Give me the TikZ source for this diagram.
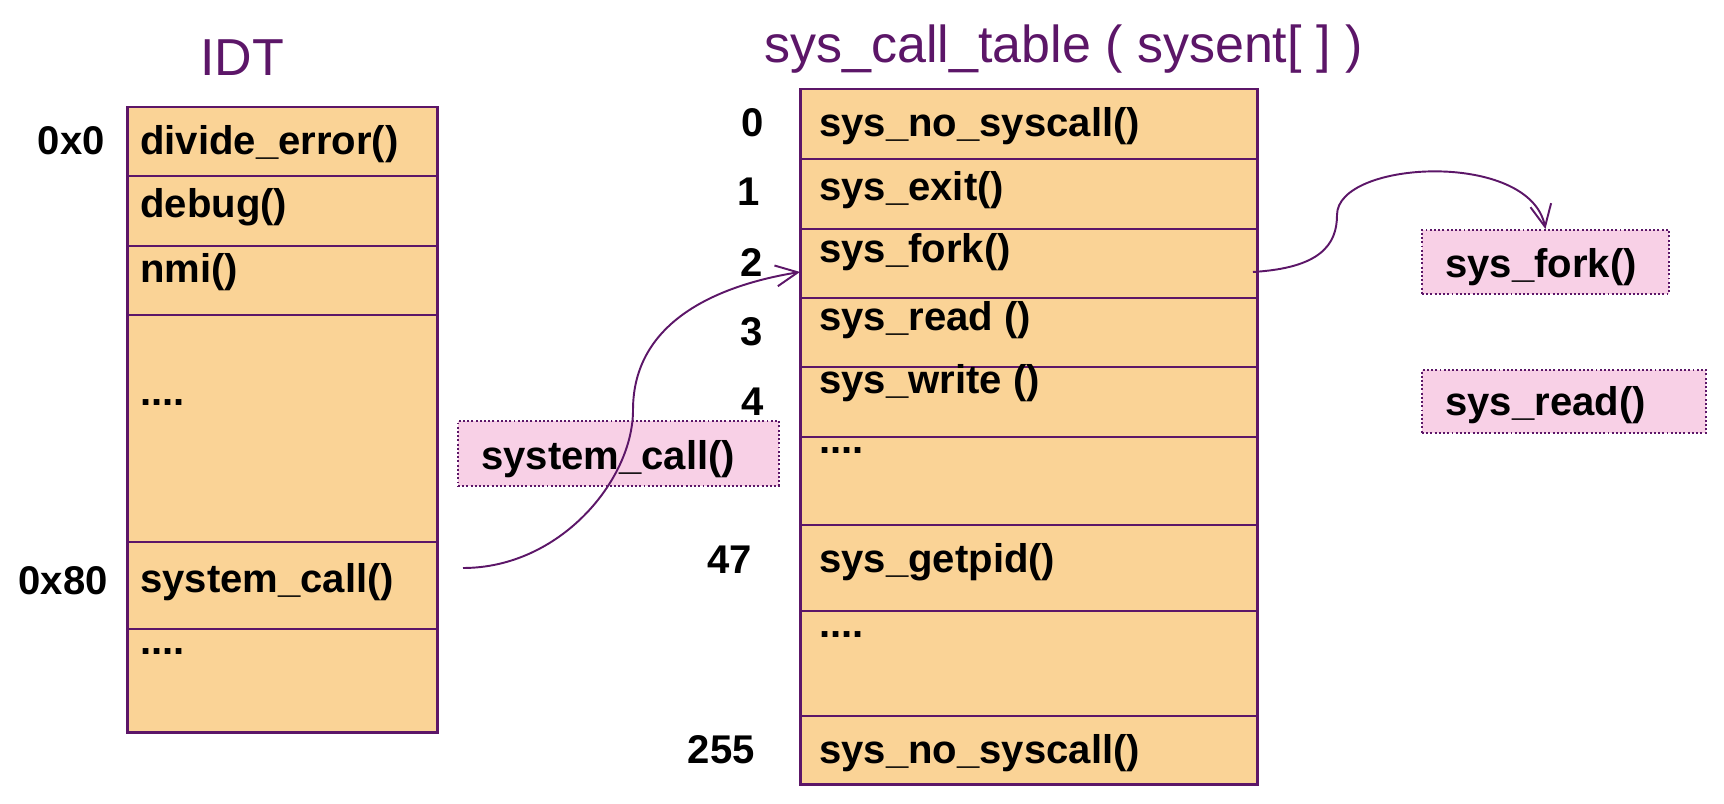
\documentclass[tikz,border=0pt]{standalone}
\usepackage{fontspec}
\setmainfont{Liberation Sans}
\usetikzlibrary{positioning, arrows.meta}
\definecolor{plum}{RGB}{92,22,104}
\definecolor{slotfill}{RGB}{250,211,150}
\definecolor{tagfill}{RGB}{248,208,230}
\newcommand{\entryfont}{\bfseries\fontsize{22.8pt}{27pt}\selectfont}

\begin{document}
\begin{tikzpicture}[x=0.02cm, y=-0.02cm, node distance=0pt,
	cell/.style={draw=plum, fill=slotfill, line width=1.1pt, outer sep=0pt, inner sep=0pt, anchor=north},
	idtcell/.style={cell, minimum width=6.22cm},
	sctcell/.style={cell, minimum width=9.16cm},
	entry/.style={font=\entryfont, anchor=base west, inner sep=0pt},
	idx/.style={font=\entryfont, anchor=base east, inner sep=0pt},
	heading/.style={text=plum, font=\fontsize{29.6pt}{35pt}\selectfont, inner sep=0pt},
	handler/.style={draw=plum, fill=tagfill, line width=1.1pt, dash pattern=on 1.1pt off 1.3pt, anchor=north west, inner sep=0pt},
	jump/.style={draw=plum, line width=1.1pt, -{Straight Barb[length=0.44cm, width=0.42cm]}}]
	\useasboundingbox (0,0) rectangle (1724,804);

	% IDT
	\node[heading, anchor=base] (idttitle) at (242,76) {IDT};
	\node[idtcell, minimum height=1.38cm] (I1) at (282.5,107) {};
	\node[idtcell, minimum height=1.40cm] (I2) [below=of I1] {};
	\node[idtcell, minimum height=1.38cm] (I3) [below=of I2] {};
	\node[idtcell, minimum height=4.54cm] (I4) [below=of I3] {};
	\node[idtcell, minimum height=1.74cm] (I5) [below=of I4] {};
	\node[idtcell, minimum height=2.08cm] (I6) [below=of I5] {};
	\draw[plum, line width=1.7pt] (I1.north west) rectangle (I6.south east);

	\node[entry] (e1) at (140,155) {divide\_error()};
	\node[entry] (e2) at (140,218) {debug()};
	\node[entry] (e3) at (140,282) {nmi()};
	\node[entry] (e4) at (140,405) {....};
	\node[entry] (e5) at (140,592) {system\_call()};
	\node[entry] (e6) at (140,654) {....};
	\node[idx] (v0) at (105,155) {0x0};
	\node[idx] (v80) at (108,594) {0x80};

	% sys_call_table
	\node[heading, anchor=base west] (scttitle) at (764,63) {sys\_call\_table ( sysent[ ] )};
	\node[sctcell, minimum height=1.40cm] (S1) at (1029,89) {};
	\node[sctcell, minimum height=1.40cm] (S2) [below=of S1] {};
	\node[sctcell, minimum height=1.38cm] (S3) [below=of S2] {};
	\node[sctcell, minimum height=1.38cm] (S4) [below=of S3] {};
	\node[sctcell, minimum height=1.40cm] (S5) [below=of S4] {};
	\node[sctcell, minimum height=1.76cm] (S6) [below=of S5] {};
	\node[sctcell, minimum height=1.72cm] (S7) [below=of S6] {};
	\node[sctcell, minimum height=2.10cm] (S8) [below=of S7] {};
	\node[sctcell, minimum height=1.38cm] (S9) [below=of S8] {};
	\draw[plum, line width=1.7pt] (S1.north west) rectangle (S9.south east);

	\node[entry] (s1) at (819,137) {sys\_no\_syscall()};
	\node[entry] (s2) at (819,201) {sys\_exit()};
	\node[entry] (s3) at (819,262) {sys\_fork()};
	\node[entry] (s4) at (819,330) {sys\_read ()};
	\node[entry] (s5) at (819,393) {sys\_write ()};
	\node[entry] (s6) at (819,453) {....};
	\node[entry] (s7) at (819,572) {sys\_getpid()};
	\node[entry] (s8) at (819,637) {....};
	\node[entry] (s9) at (819,763) {sys\_no\_syscall()};
	\node[idx] (n0) at (764,137) {0};
	\node[idx] (n1) at (760,206) {1};
	\node[idx] (n2) at (763,276) {2};
	\node[idx] (n3) at (763,345) {3};
	\node[idx] (n4) at (764,415) {4};
	\node[idx] (n47) at (752,573) {47};
	\node[idx] (n255) at (755,763) {255};

	% handlers
	\node[handler, minimum width=6.42cm, minimum height=1.30cm] (H) at (457,420) {};
	\node[entry] (h) at (481,469) {system\_call()};
	\node[handler, minimum width=4.94cm, minimum height=1.28cm] (F1) at (1421,229) {};
	\node[entry] (f1) at (1445,277) {sys\_fork()};
	\node[handler, minimum width=5.68cm, minimum height=1.26cm] (F2) at (1421,369) {};
	\node[entry] (f2) at (1445,415) {sys\_read()};

	\coordinate (trap) at (463,568);
	\draw[jump] (trap) .. controls (560,568) and (633,480) .. (633,410)
		.. controls (633,320) and (720,285) .. ([yshift=-0.17cm]S3.west);
	\draw[jump] ([xshift=-0.1cm, yshift=-0.17cm]S3.east) .. controls (1320,268) and (1337,245) .. (1337,215)
		.. controls (1337,160) and (1530,150) .. (F1.north);

\end{tikzpicture}
\end{document}
